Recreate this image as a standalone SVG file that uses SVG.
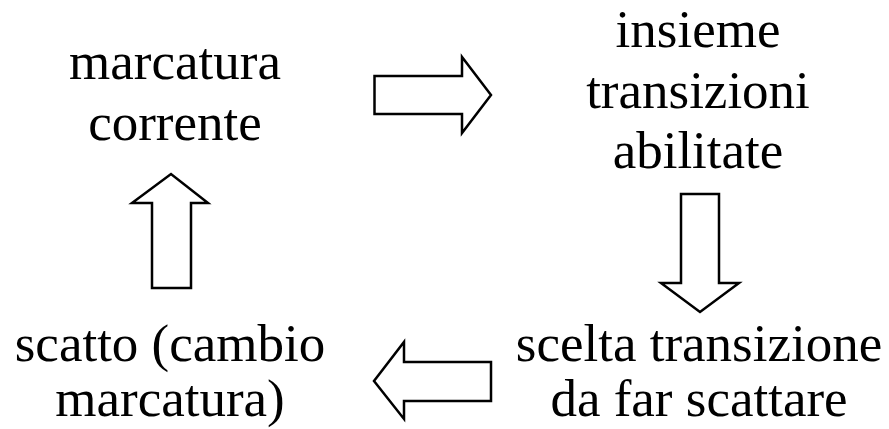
<svg xmlns="http://www.w3.org/2000/svg" width="889" height="429" viewBox="0 0 889 429">
<style>
text{font-family:"Liberation Serif","Times New Roman",serif;font-size:53px;fill:#000;text-anchor:middle}
.arr{fill:#fff;stroke:#000;stroke-width:2.5;stroke-linejoin:miter}
</style>
<rect width="889" height="429" fill="#fff"/>
<g id="n1"><text x="175" y="79">marcatura</text><text x="175" y="140">corrente</text></g>
<g id="n2"><text x="698" y="47">insieme</text><text x="698" y="108">transizioni</text><text x="698" y="168">abilitate</text></g>
<g id="n3"><text x="699" y="361">scelta transizione</text><text x="699" y="416">da far scattare</text></g>
<g id="n4"><text x="170" y="361">scatto (cambio</text><text x="170" y="416">marcatura)</text></g>
<g id="connectors">
<polygon class="arr" points="374.5,76 462,76 462,57 491,95 462,133 462,114 374.5,114"/>
<polygon class="arr" points="681,194 719,194 719,283 739,283 700,312 661,283 681,283"/>
<polygon class="arr" points="491,362 404,362 404,342 374,381 404,419 404,401 491,401"/>
<polygon class="arr" points="152,288 152,203 132,203 171,174 208,203 191,203 191,288"/>
</g>
</svg>
